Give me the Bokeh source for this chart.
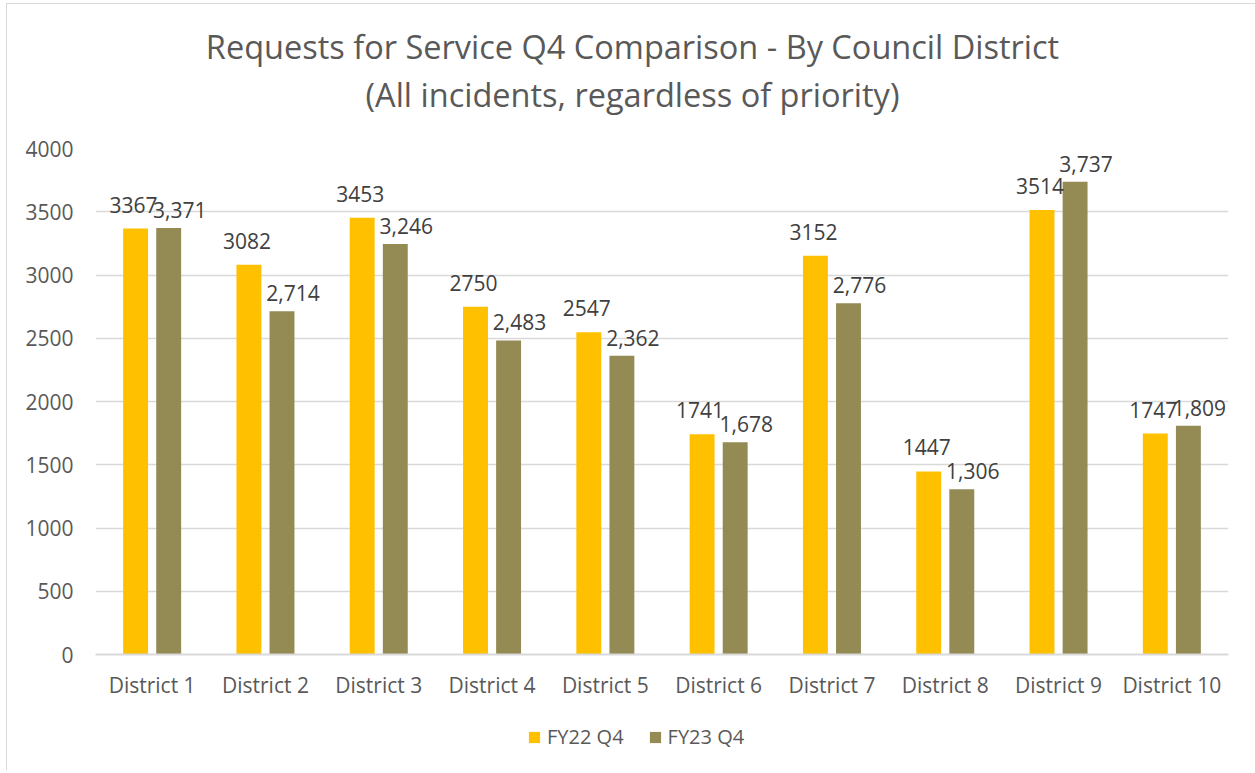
from bokeh.plotting import figure
from bokeh.layouts import column
from bokeh.models import (FactorRange, ColumnDataSource, Label, Legend, LegendItem,
                          SingleIntervalTicker, NumeralTickFormatter)
from bokeh.transform import dodge
from bokeh.embed import file_html
from bokeh.resources import INLINE
from bokeh.core.properties import value

districts = ["District 1", "District 2", "District 3", "District 4", "District 5",
             "District 6", "District 7", "District 8", "District 9", "District 10"]
fy22_q4 = [3367, 3082, 3453, 2750, 2547, 1741, 3152, 1447, 3514, 1747]
fy23_q4 = [3371, 2714, 3246, 2483, 2362, 1678, 2776, 1306, 3737, 1809]
series_names = ["FY22 Q4", "FY23 Q4"]
title_lines = ["Requests for Service Q4 Comparison - By Council District",
               "(All incidents, regardless of priority)"]

C22 = "#FFC000"
C23 = "#948A54"
FONT = "Open Sans"

src = ColumnDataSource(dict(
    d=districts,
    a=fy22_q4,
    b=fy23_q4,
    la=[str(v) for v in fy22_q4],
    lb=[f"{v:,}" for v in fy23_q4],
))

W = 1248
H_TITLE = 120
H_MAIN = 586
H_LEG = 60


def strip(height):
    s = figure(width=W, height=height, x_range=(0, 1), y_range=(0, 1),
               output_backend="svg", toolbar_location=None,
               x_axis_location=None, y_axis_location=None, min_border=0)
    s.title = None
    s.outline_line_color = None
    s.xgrid.visible = False
    s.ygrid.visible = False
    return s


# ---- title strip ----
pt = strip(H_TITLE)
pt.add_layout(Label(x=537, y=78, x_units="screen", y_units="screen", text=title_lines[0],
                    text_font=FONT, text_font_size="32.5px", text_color="#595959",
                    text_align="center", text_baseline="alphabetic"))
pt.add_layout(Label(x=537, y=30, x_units="screen", y_units="screen", text=title_lines[1],
                    text_font=FONT, text_font_size="32.5px", text_color="#595959",
                    text_align="center", text_baseline="alphabetic"))

# ---- main chart ----
p = figure(x_range=FactorRange(*districts), y_range=(0, 4000),
           width=W, height=H_MAIN, output_backend="svg", toolbar_location=None,
           min_border_left=88, min_border_right=27, min_border_top=24,
           min_border_bottom=56)
p.title = None
p.outline_line_color = None
p.background_fill_color = "white"
p.border_fill_color = "white"

r1 = p.vbar(x=dodge("d", -0.146, range=p.x_range), top="a", width=0.22, source=src,
            fill_color=C22, line_color=None)
r2 = p.vbar(x=dodge("d", 0.146, range=p.x_range), top="b", width=0.22, source=src,
            fill_color=C23, line_color=None)

p.text(x=dodge("d", -0.146, range=p.x_range), y="a", text="la", source=src,
       text_font=value(FONT), text_font_size="21px", text_color="#404040",
       text_align="center", text_baseline="alphabetic", x_offset=-2, y_offset=-24)
p.text(x=dodge("d", 0.146, range=p.x_range), y="b", text="lb", source=src,
       text_font=value(FONT), text_font_size="21px", text_color="#404040",
       text_align="center", text_baseline="alphabetic", x_offset=11, y_offset=-18)

p.yaxis.ticker = SingleIntervalTicker(interval=500)
p.yaxis.formatter = NumeralTickFormatter(format="0")
p.yaxis.axis_line_color = None
p.yaxis.major_tick_line_color = None
p.yaxis.minor_tick_line_color = None
p.yaxis.major_label_text_font = FONT
p.yaxis.major_label_text_font_size = "21px"
p.yaxis.major_label_text_color = "#595959"
p.yaxis.major_label_standoff = 16

p.xaxis.axis_line_color = "#d9d9d9"
p.xaxis.axis_line_width = 2
p.xaxis.major_tick_line_color = None
p.xaxis.minor_tick_line_color = None
p.xaxis.major_label_text_font = FONT
p.xaxis.major_label_text_font_size = "21px"
p.xaxis.major_label_text_color = "#595959"
p.xaxis.major_label_standoff = 10

p.xgrid.grid_line_color = None
p.ygrid.grid_line_color = "#d9d9d9"
p.ygrid.grid_line_width = 1.5

# ---- legend strip ----
pl = strip(H_LEG)
# zero-height swatch renderers: only their legend glyphs are visible
g1 = pl.vbar(x=[0.5], top=[0], bottom=[0], width=0.1, fill_color=C22, line_color=None)
g2 = pl.vbar(x=[0.5], top=[0], bottom=[0], width=0.1, fill_color=C23, line_color=None)
legend = Legend(items=[LegendItem(label=series_names[0], renderers=[g1]),
                       LegendItem(label=series_names[1], renderers=[g2])],
                orientation="horizontal", location=(432, 20),
                padding=0, margin=0, spacing=24, label_standoff=6,
                glyph_width=14, glyph_height=14,
                label_text_font=FONT, label_text_font_size="20px",
                label_text_color="#595959",
                border_line_color=None, background_fill_alpha=0)
pl.add_layout(legend, "center")

layout = column(pt, p, pl, spacing=0)
layout.styles = {"margin-left": "6px", "margin-top": "3px",
                 "border-left": "1px solid #d9d9d9", "border-top": "1px solid #d9d9d9"}

open("out.html", "w").write(file_html(layout, INLINE))
